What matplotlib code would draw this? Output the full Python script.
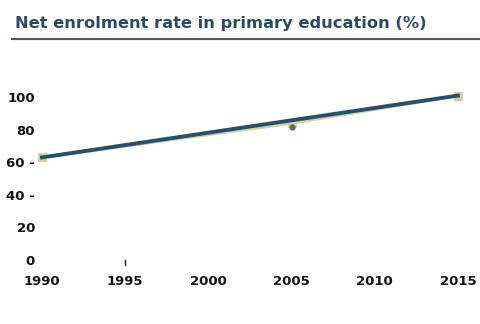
import matplotlib
matplotlib.use("Agg")
import matplotlib.pyplot as plt

# series
years_actual = [1990, 2005, 2015]
rate_actual = [63, 84, 101]
years_target = [1990, 2015]
rate_target = [63, 101]

x_ticks = [1990, 1995, 2000, 2005, 2010, 2015]
y_ticks = [0, 20, 40, 60, 80, 100]
y_labels = ["0", "20", "40 -", "60 -", "80", "100"]

title = "Net enrolment rate in primary education (%)"

fig = plt.figure(figsize=(4.8, 3.24), dpi=100)
ax = fig.add_axes([0.0875, 0.1975, 0.8665, 0.5025])

ax.plot(years_actual, rate_actual, color='#d3d3a4', linewidth=2.2, marker='s',
        markersize=6, clip_on=False, zorder=2)
# the 2005 point shows darker
ax.plot(years_actual[1], rate_actual[1] - 2.5, 'o', color='#5e7352',
        markersize=3.5, clip_on=False, zorder=2.5)
ax.plot(years_target, rate_target, color='#28506e', linewidth=2.8,
        clip_on=False, zorder=3)

ax.set_xlim(1990, 2015)
ax.set_ylim(0, 100)
ax.set_xticks(x_ticks)
ax.set_xticklabels([str(y) for y in x_ticks], fontsize=9.5, fontweight='bold',
                   color='#151515')
ax.set_yticks(y_ticks)
ax.set_yticklabels(y_labels, fontsize=9.5, fontweight='bold', color='#151515')
ax.tick_params(axis='x', length=0, pad=11)
ax.tick_params(axis='y', length=0, pad=5)
for s in ax.spines.values():
    s.set_visible(False)
# small tick mark above 1995
ax.plot([1995, 1995], [0, -3], color='#222222', linewidth=1, clip_on=False)

fig.text(0.032, 0.928, title, fontsize=11.7, fontweight='bold', color='#2b4a66',
         ha='left', va='center')
fig.add_artist(plt.Line2D([0.025, 1.0], [0.88, 0.88], color='#4d5b68',
                          linewidth=1.5, transform=fig.transFigure))

fig.savefig("out.png", dpi=100)
